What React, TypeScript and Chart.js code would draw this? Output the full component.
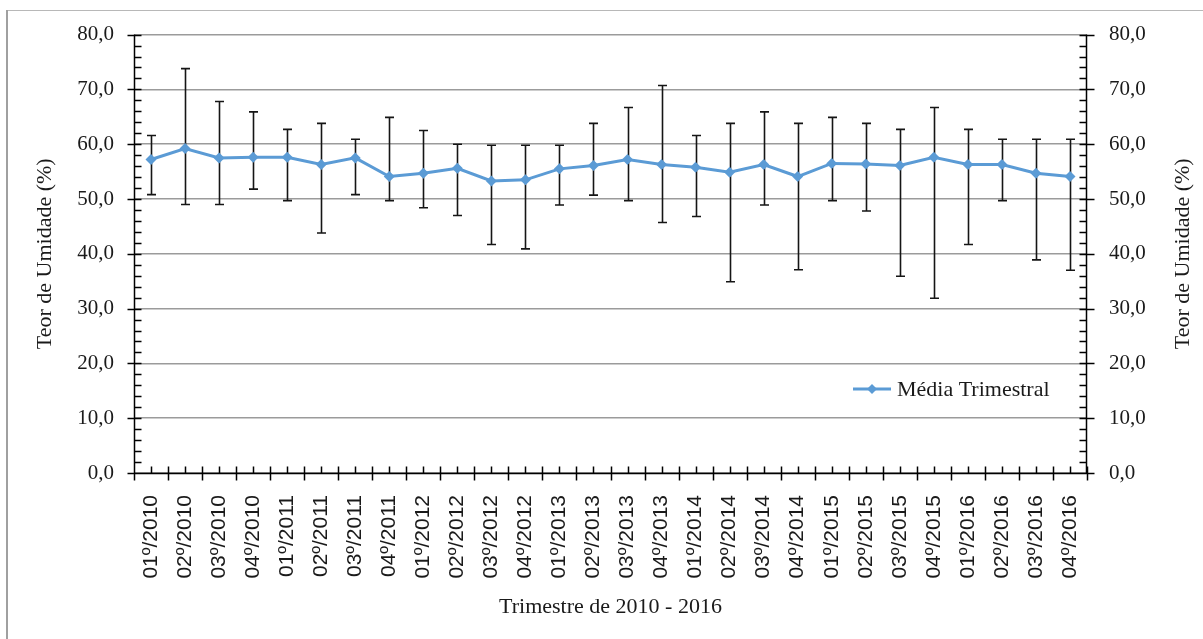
import React, { useEffect, useRef } from "react";
import { Chart, registerables } from "chart.js";

Chart.register(...registerables);

const categories = [
  "01º/2010", "02º/2010", "03º/2010", "04º/2010",
  "01º/2011", "02º/2011", "03º/2011", "04º/2011",
  "01º/2012", "02º/2012", "03º/2012", "04º/2012",
  "01º/2013", "02º/2013", "03º/2013", "04º/2013",
  "01º/2014", "02º/2014", "03º/2014", "04º/2014",
  "01º/2015", "02º/2015", "03º/2015", "04º/2015",
  "01º/2016", "02º/2016", "03º/2016", "04º/2016",
];

const mediaTrimestral = [
  57.2, 59.2, 57.5, 57.6, 57.6, 56.3, 57.5, 54.1, 54.7, 55.6, 53.3, 53.5, 55.5, 56.1,
  57.2, 56.3, 55.8, 54.9, 56.3, 54.1, 56.5, 56.4, 56.1, 57.6, 56.3, 56.3, 54.7, 54.1,
];

const maximo = [
  61.6, 73.8, 67.8, 65.9, 62.7, 63.8, 60.9, 64.9, 62.5, 60.0, 59.8, 59.8, 59.8, 63.8,
  66.7, 70.7, 61.6, 63.8, 65.9, 63.8, 64.9, 63.8, 62.7, 66.7, 62.7, 60.9, 60.9, 60.9,
];

const minimo = [
  50.8, 49.0, 49.0, 51.8, 49.7, 43.8, 50.8, 49.7, 48.4, 47.0, 41.7, 40.9, 48.9, 50.7,
  49.7, 45.7, 46.8, 34.9, 48.9, 37.1, 49.7, 47.8, 35.9, 31.9, 41.7, 49.7, 38.9, 37.0,
];

const yTickValues = [0, 10, 20, 30, 40, 50, 60, 70, 80];

const Y_TITLE = "Teor de Umidade (%)";
const X_TITLE = "Trimestre de 2010 - 2016";
const LEGEND_LABEL = "Média Trimestral";

const SERIF = "'Liberation Serif', 'Times New Roman', serif";
const SANS = "'Liberation Sans', Arial, sans-serif";
const LINE_COLOR = "#5B9BD5";
const TEXT_COLOR = "#1a1a1a";

const fmt = (v: number) => Number(v).toFixed(1).replace(".", ",");

const framePlugin = {
  id: "frame",
  beforeDraw(chart: any) {
    const ctx = chart.ctx;
    ctx.save();
    ctx.fillStyle = "#ffffff";
    ctx.fillRect(0, 0, chart.width, chart.height);
    ctx.strokeStyle = "#b8b8b8";
    ctx.lineWidth = 1;
    ctx.beginPath();
    ctx.moveTo(7, 10.5);
    ctx.lineTo(chart.width, 10.5);
    ctx.stroke();
    ctx.strokeStyle = "#a0a0a0";
    ctx.lineWidth = 2;
    ctx.beginPath();
    ctx.moveTo(7, 10);
    ctx.lineTo(7, chart.height);
    ctx.stroke();
    ctx.restore();
  },
};

const errorBarPlugin = {
  id: "errorBars",
  beforeDatasetsDraw(chart: any) {
    const ctx = chart.ctx;
    const xs = chart.scales.x;
    const ys = chart.scales.y;
    ctx.save();
    ctx.strokeStyle = "#151515";
    ctx.lineWidth = 1.6;
    for (let i = 0; i < categories.length; i++) {
      const x = Math.round(xs.getPixelForValue(i)) + 0.5;
      const yHi = ys.getPixelForValue(maximo[i]);
      const yLo = ys.getPixelForValue(minimo[i]);
      ctx.beginPath();
      ctx.moveTo(x, yHi);
      ctx.lineTo(x, yLo);
      ctx.moveTo(x - 4.5, yHi);
      ctx.lineTo(x + 4.5, yHi);
      ctx.moveTo(x - 4.5, yLo);
      ctx.lineTo(x + 4.5, yLo);
      ctx.stroke();
    }
    ctx.restore();
  },
};

const axesPlugin = {
  id: "axesTicks",
  afterDatasetsDraw(chart: any) {
    const ctx = chart.ctx;
    const { left, right, top, bottom } = chart.chartArea;
    const ys = chart.scales.y;
    const xs = chart.scales.x;
    ctx.save();
    ctx.strokeStyle = "#000000";
    ctx.lineWidth = 1.5;
    const L = Math.round(left) + 0.5;
    const R = Math.round(right) - 0.5;
    const B = Math.round(bottom) + 0.5;
    ctx.beginPath();
    ctx.moveTo(L, top);
    ctx.lineTo(L, bottom);
    ctx.moveTo(R, top);
    ctx.lineTo(R, bottom);
    ctx.moveTo(left, B);
    ctx.lineTo(right, B);
    for (let v = 0; v <= 80; v += 2) {
      const y = Math.round(ys.getPixelForValue(v)) + 0.5;
      const major = v % 10 === 0;
      ctx.moveTo(major ? L - 7 : L, y);
      ctx.lineTo(L + 7, y);
      ctx.moveTo(R - 7, y);
      ctx.lineTo(major ? R + 8 : R, y);
    }
    const n = categories.length;
    const w = (right - left) / n;
    for (let i = 0; i <= n; i++) {
      const x = Math.round(left + i * w) + 0.5;
      ctx.moveTo(x, B - 7);
      ctx.lineTo(x, B + 7);
    }
    for (let i = 0; i < n; i++) {
      const x = Math.round(xs.getPixelForValue(i)) + 0.5;
      ctx.moveTo(x, B - 7);
      ctx.lineTo(x, B);
    }
    ctx.stroke();

    // right-hand axis title, reading bottom to top like the left one
    ctx.fillStyle = TEXT_COLOR;
    ctx.font = `22px ${SERIF}`;
    ctx.textAlign = "center";
    ctx.textBaseline = "middle";
    ctx.translate(1183, (top + bottom) / 2);
    ctx.rotate(-Math.PI / 2);
    ctx.fillText(Y_TITLE, 0, 0);
    ctx.restore();
  },
};

const legendPlugin = {
  id: "insideLegend",
  afterDraw(chart: any) {
    const ctx = chart.ctx;
    const { right, bottom } = chart.chartArea;
    const y = bottom - 84;
    const x0 = right - 234;
    ctx.save();
    ctx.strokeStyle = LINE_COLOR;
    ctx.lineWidth = 3;
    ctx.beginPath();
    ctx.moveTo(x0, y);
    ctx.lineTo(x0 + 38, y);
    ctx.stroke();
    ctx.fillStyle = LINE_COLOR;
    ctx.beginPath();
    const cx = x0 + 19;
    ctx.moveTo(cx, y - 5);
    ctx.lineTo(cx + 5, y);
    ctx.lineTo(cx, y + 5);
    ctx.lineTo(cx - 5, y);
    ctx.closePath();
    ctx.fill();
    ctx.fillStyle = TEXT_COLOR;
    ctx.font = `22px ${SERIF}`;
    ctx.textBaseline = "middle";
    ctx.textAlign = "left";
    ctx.fillText(LEGEND_LABEL, x0 + 44, y + 1);
    ctx.restore();
  },
};

export default function App() {
  const canvasRef = useRef<HTMLCanvasElement | null>(null);

  useEffect(() => {
    if (!canvasRef.current) return;
    const chart = new Chart(canvasRef.current, {
      type: "line",
      data: {
        labels: categories,
        datasets: [
          {
            label: LEGEND_LABEL,
            data: mediaTrimestral,
            borderColor: LINE_COLOR,
            backgroundColor: LINE_COLOR,
            borderWidth: 3,
            pointStyle: "rectRot",
            pointRadius: 5.5,
            pointBorderWidth: 0,
            pointBackgroundColor: LINE_COLOR,
            tension: 0,
            yAxisID: "y",
          },
        ],
      },
      options: {
        animation: false,
        responsive: false,
        devicePixelRatio: 1,
        layout: { padding: { top: 33, left: 0, right: 0, bottom: 0 } },
        plugins: {
          legend: { display: false },
          tooltip: { enabled: false },
        },
        scales: {
          x: {
            type: "category",
            offset: true,
            grid: { display: false, drawTicks: false },
            border: { display: false },
            ticks: {
              autoSkip: false,
              maxRotation: 90,
              minRotation: 90,
              padding: 22,
              color: TEXT_COLOR,
              font: { family: SANS, size: 21 },
            },
            title: {
              display: true,
              text: X_TITLE,
              color: TEXT_COLOR,
              font: { family: SERIF, size: 22 },
              padding: { top: 0, bottom: 19 },
            },
            afterFit: (s: any) => {
              s.height = 166;
            },
          },
          y: {
            position: "left",
            min: 0,
            max: 80,
            afterBuildTicks: (s: any) => {
              s.ticks = yTickValues.map((v) => ({ value: v }));
            },
            grid: { color: "#9b9b9b", lineWidth: 1.5, drawTicks: false },
            border: { display: false },
            ticks: {
              padding: 20,
              color: TEXT_COLOR,
              font: { family: SERIF, size: 21 },
              callback: (v: any) => fmt(v),
            },
            title: {
              display: true,
              text: Y_TITLE,
              color: TEXT_COLOR,
              font: { family: SERIF, size: 22 },
              padding: { top: 32, bottom: 0 },
            },
            afterFit: (s: any) => {
              s.width = 134;
            },
          },
          y2: {
            position: "right",
            min: 0,
            max: 80,
            afterBuildTicks: (s: any) => {
              s.ticks = yTickValues.map((v) => ({ value: v }));
            },
            grid: { display: false, drawTicks: false },
            border: { display: false },
            ticks: {
              padding: 22,
              color: TEXT_COLOR,
              font: { family: SERIF, size: 21 },
              callback: (v: any) => fmt(v),
            },
            title: { display: false },
            afterFit: (s: any) => {
              s.width = 116;
            },
          },
        },
      },
      plugins: [framePlugin, errorBarPlugin, axesPlugin, legendPlugin],
    } as any);
    return () => chart.destroy();
  }, []);

  return (
    <div style={{ position: "fixed", left: 0, top: 0, width: 1203, height: 639, background: "#fff" }}>
      <canvas ref={canvasRef} width={1203} height={639} style={{ display: "block", width: 1203, height: 639 }} />
    </div>
  );
}
